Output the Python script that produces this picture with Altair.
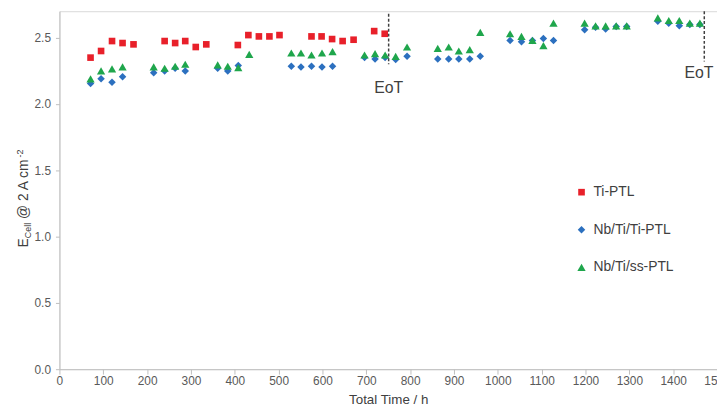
import altair as alt
import pandas as pd

# ---- data ----
series_names = ["Ti-PTL", "Nb/Ti/Ti-PTL", "Nb/Ti/ss-PTL"]
series_colors = ["#E8202A", "#2C70BF", "#1FA64C"]
series_shapes = ["square", "diamond", "triangle-up"]
series_sizes = [45, 70, 78]

ti_time = [71, 95, 120, 144, 169, 240, 264, 287, 311, 335, 407, 431, 455, 479, 502,
           575, 598, 622, 646, 671, 718, 742]
ti_ecell = [2.35, 2.40, 2.475, 2.46, 2.45, 2.475, 2.46, 2.475, 2.43, 2.45, 2.445, 2.52,
            2.51, 2.51, 2.52, 2.51, 2.51, 2.49, 2.475, 2.485, 2.55, 2.53]

nbti_time = [71, 95, 120, 144, 215, 240, 264, 287, 361, 384, 408, 529, 551, 575, 599,
             623, 696, 720, 743, 767, 793, 863, 888, 911, 936, 960, 1028, 1054, 1079,
             1104, 1127, 1198, 1223, 1246, 1270, 1294, 1365, 1390, 1414, 1438, 1461]
nbti_ecell = [2.155, 2.19, 2.165, 2.205, 2.235, 2.25, 2.27, 2.25, 2.27, 2.25, 2.29,
              2.285, 2.28, 2.285, 2.28, 2.285, 2.35, 2.34, 2.35, 2.335, 2.36, 2.34,
              2.34, 2.34, 2.34, 2.36, 2.48, 2.47, 2.48, 2.495, 2.48, 2.56, 2.58,
              2.565, 2.585, 2.585, 2.625, 2.61, 2.59, 2.60, 2.60]

ss_time = [71, 95, 120, 144, 215, 240, 264, 287, 361, 384, 408, 433, 529, 551, 575,
           599, 623, 696, 720, 743, 767, 793, 863, 888, 911, 936, 960, 1028, 1054,
           1079, 1104, 1127, 1198, 1223, 1246, 1270, 1294, 1365, 1390, 1414, 1438, 1461]
ss_ecell = [2.19, 2.25, 2.265, 2.28, 2.28, 2.27, 2.285, 2.30, 2.295, 2.285, 2.275,
            2.375, 2.385, 2.385, 2.37, 2.385, 2.395, 2.37, 2.38, 2.37, 2.36, 2.43,
            2.42, 2.43, 2.40, 2.41, 2.54, 2.53, 2.51, 2.48, 2.44, 2.61, 2.61, 2.59,
            2.59, 2.59, 2.59, 2.65, 2.63, 2.63, 2.61, 2.61]

eot_time = [751, 1471]
eot_top = [2.68, 2.70]
eot_bottom = [2.30, 2.32]
eot_label_time = [751, 1459]
eot_label_ecell = [2.118, 2.232]
eot_labels = ["EoT", "EoT"]

x_ticks = list(range(0, 1501, 100))
y_ticks = [0.0, 0.5, 1.0, 1.5, 2.0, 2.5]

# ---- tables ----
rows = []
for name, ts, vs in zip(series_names, [ti_time, nbti_time, ss_time],
                        [ti_ecell, nbti_ecell, ss_ecell]):
    for t, v in zip(ts, vs):
        rows.append({"series": name, "time": t, "ecell": v})
df = pd.DataFrame(rows)

eot_df = pd.DataFrame({"time": eot_time, "top": eot_top, "bottom": eot_bottom})
eot_lab_df = pd.DataFrame({"time": eot_label_time, "ecell": eot_label_ecell,
                           "label": eot_labels})

FONT = "Liberation Sans"
x_scale = alt.Scale(domain=[0, 1500], nice=False)
y_scale = alt.Scale(domain=[0, 2.7], nice=False)

legend = alt.Legend(title=None, orient="none", legendX=521, legendY=176,
                    rowPadding=24, labelFontSize=14, labelColor="#404040",
                    labelFont=FONT, symbolSize=55, labelOffset=5, padding=0,
                    symbolStrokeWidth=0)

points = alt.Chart(df).mark_point(filled=True, opacity=1, strokeWidth=0).encode(
    x=alt.X("time:Q", scale=x_scale,
            axis=alt.Axis(values=x_ticks, title="Total Time / h", format="d",
                          tickSize=5, labelPadding=2, titlePadding=6,
                          labelFlush=False, labelOverlap=False,
                          titleFontSize=13.5, titleColor="#404040")),
    y=alt.Y("ecell:Q", scale=y_scale,
            axis=alt.Axis(values=y_ticks, format=".1f", title=None,
                          tickSize=4, labelPadding=5)),
    color=alt.Color("series:N", sort=series_names,
                    scale=alt.Scale(domain=series_names, range=series_colors),
                    legend=legend),
    shape=alt.Shape("series:N", sort=series_names,
                    scale=alt.Scale(domain=series_names, range=series_shapes),
                    legend=legend),
    size=alt.Size("series:N", sort=series_names,
                  scale=alt.Scale(domain=series_names, range=series_sizes),
                  legend=None),
)

rules = alt.Chart(eot_df).mark_rule(strokeDash=[3, 2], color="#404040",
                                    strokeWidth=1.5).encode(
    x=alt.X("time:Q", scale=x_scale),
    y=alt.Y("top:Q", scale=y_scale),
    y2="bottom:Q",
)

eot_text = alt.Chart(eot_lab_df).mark_text(fontSize=16, color="#404040", font=FONT,
                                           align="center", baseline="middle").encode(
    x=alt.X("time:Q", scale=x_scale),
    y=alt.Y("ecell:Q", scale=y_scale),
    text="label:N",
)

def title_piece(txt, size, x, y):
    return alt.Chart(pd.DataFrame({"t": [txt]})).mark_text(
        angle=270, align="left", baseline="alphabetic", fontSize=size,
        color="#404040", font=FONT).encode(
        text="t:N", x=alt.value(x), y=alt.value(y))

title_layers = [
    title_piece("E", 14, -32, 239),
    title_piece("Cell", 9, -29, 229.5),
    title_piece("@ 2 A cm", 14, -32, 210),
    title_piece("-2", 9, -37, 148),
]

chart = alt.layer(points, rules, eot_text, *title_layers).properties(
    width=665, height=362,
    autosize=alt.AutoSizeParams(type="none"),
    padding={"left": 52, "top": 1, "right": 0, "bottom": 37},
).configure_view(stroke="#d9d9d9", strokeWidth=1).configure_axis(
    grid=False, domainColor="#bfbfbf", tickColor="#bfbfbf",
    labelFont=FONT, labelFontSize=12, labelColor="#595959",
    titleFont=FONT, titleFontWeight="normal",
)

chart.save("out.html", embed_options={"renderer": "svg", "actions": False})
